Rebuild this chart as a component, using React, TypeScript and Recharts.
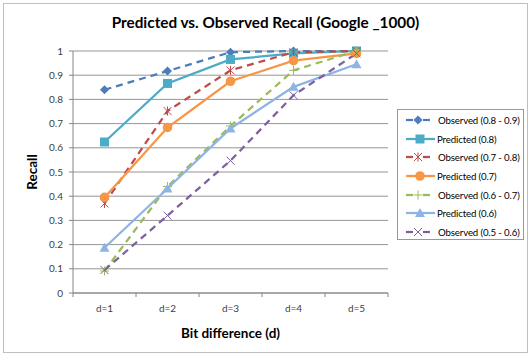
import React from "react"
import { LineChart, Line, XAxis, YAxis, CartesianGrid } from "recharts"

const categories = ["d=1", "d=2", "d=3", "d=4", "d=5"]
const yTicks = [0, 0.1, 0.2, 0.3, 0.4, 0.5, 0.6, 0.7, 0.8, 0.9, 1]

const observed89 = [0.84, 0.917, 0.995, 1.0, 1.0]
const predicted8 = [0.624, 0.866, 0.965, 0.99, 1.0]
const observed78 = [0.37, 0.752, 0.92, 0.995, 1.0]
const predicted7 = [0.395, 0.684, 0.875, 0.96, 0.99]
const observed67 = [0.091, 0.44, 0.69, 0.92, 1.0]
const predicted6 = [0.187, 0.432, 0.68, 0.852, 0.945]
const observed56 = [0.095, 0.32, 0.547, 0.817, 0.99]

type Shape = "diamond" | "square" | "star" | "circle" | "plus" | "triangle" | "cross"

const series = [
  { key: "o89", name: "Observed (0.8 - 0.9)", values: observed89, color: "#4A7EBB", dashed: true, shape: "diamond" as Shape },
  { key: "p8", name: "Predicted (0.8)", values: predicted8, color: "#4BACC6", dashed: false, shape: "square" as Shape },
  { key: "o78", name: "Observed (0.7 - 0.8)", values: observed78, color: "#BE4B48", dashed: true, shape: "star" as Shape },
  { key: "p7", name: "Predicted (0.7)", values: predicted7, color: "#F79646", dashed: false, shape: "circle" as Shape },
  { key: "o67", name: "Observed (0.6 - 0.7)", values: observed67, color: "#9BBB59", dashed: true, shape: "plus" as Shape },
  { key: "p6", name: "Predicted (0.6)", values: predicted6, color: "#8EB4E3", dashed: false, shape: "triangle" as Shape },
  { key: "o56", name: "Observed (0.5 - 0.6)", values: observed56, color: "#7F609E", dashed: true, shape: "cross" as Shape },
]

const data = categories.map((c, i) => {
  const row: Record<string, string | number> = { name: c }
  series.forEach((s) => (row[s.key] = s.values[i]))
  return row
})

const FONT = "Lato, 'Open Sans', sans-serif"

function Marker({ cx, cy, shape, color }: { cx: number; cy: number; shape: Shape; color: string }) {
  switch (shape) {
    case "diamond":
      return <polygon points={`${cx},${cy - 4.5} ${cx + 4.5},${cy} ${cx},${cy + 4.5} ${cx - 4.5},${cy}`} fill={color} />
    case "square":
      return <rect x={cx - 4.5} y={cy - 4.5} width={9} height={9} fill={color} />
    case "circle":
      return <circle cx={cx} cy={cy} r={4.8} fill={color} />
    case "triangle":
      return <polygon points={`${cx},${cy - 5} ${cx + 5},${cy + 4} ${cx - 5},${cy + 4}`} fill={color} />
    case "plus":
      return (
        <g stroke={color} strokeWidth={1}>
          <line x1={cx - 4.5} y1={cy} x2={cx + 4.5} y2={cy} />
          <line x1={cx} y1={cy - 4.5} x2={cx} y2={cy + 4.5} />
        </g>
      )
    case "cross":
      return (
        <g stroke={color} strokeWidth={1}>
          <line x1={cx - 4} y1={cy - 4} x2={cx + 4} y2={cy + 4} />
          <line x1={cx - 4} y1={cy + 4} x2={cx + 4} y2={cy - 4} />
        </g>
      )
    case "star":
      return (
        <g stroke={color} strokeWidth={1}>
          <line x1={cx - 4} y1={cy - 4} x2={cx + 4} y2={cy + 4} />
          <line x1={cx - 4} y1={cy + 4} x2={cx + 4} y2={cy - 4} />
          <line x1={cx} y1={cy - 4.5} x2={cx} y2={cy + 4.5} />
        </g>
      )
  }
  return null
}

// category width is 315 / 5
const HALF_BAND = 31.5

function XTick(props: any) {
  const { x, y, payload, index } = props
  return (
    <g>
      <line x1={x - HALF_BAND} y1={y} x2={x - HALF_BAND} y2={y + 4} stroke="#868686" />
      {index === categories.length - 1 && (
        <line x1={x + HALF_BAND} y1={y} x2={x + HALF_BAND} y2={y + 4} stroke="#868686" />
      )}
      <text x={x} y={y + 19} textAnchor="middle" fontSize={10} fill="#404040" fontFamily={FONT}>
        {payload.value}
      </text>
    </g>
  )
}

function LegendBox() {
  return (
    <div
      style={{
        position: "absolute",
        left: 397,
        top: 109,
        width: 127,
        height: 131,
        border: "1px solid #9E8FBF",
        boxSizing: "border-box",
        paddingTop: 1,
        fontFamily: FONT,
        fontSize: 9.7,
        letterSpacing: -0.15,
        color: "#000",
      }}
    >
      {series.map((s) => (
        <div key={s.key} style={{ display: "flex", alignItems: "center", height: 18.6 }}>
          <svg width={33} height={12} style={{ marginLeft: 6, flexShrink: 0 }}>
            {s.dashed ? (
              <>
                <line x1={2} y1={6} x2={9} y2={6} stroke={s.color} strokeWidth={2.25} />
                <line x1={19} y1={6} x2={26} y2={6} stroke={s.color} strokeWidth={2.25} />
              </>
            ) : (
              <line x1={2} y1={6} x2={31} y2={6} stroke={s.color} strokeWidth={2.25} />
            )}
            <Marker cx={s.dashed ? 14 : 16} cy={6} shape={s.shape} color={s.color} />
          </svg>
          <span style={{ marginLeft: s.dashed ? 1 : 0, whiteSpace: "nowrap" }}>{s.name}</span>
        </div>
      ))}
    </div>
  )
}

export default function App() {
  return (
    <div style={{ position: "absolute", left: 0, top: 0, width: 531, height: 356, background: "#fff", fontFamily: FONT }}>
      <div
        style={{
          position: "absolute",
          left: 3,
          top: 3,
          width: 525,
          height: 350,
          border: "1px solid #bfbfbf",
          boxSizing: "border-box",
        }}
      />
      <div
        style={{
          position: "absolute",
          left: 0,
          top: 13,
          width: 531,
          textAlign: "center",
          fontSize: 15.3,
          fontWeight: "bold",
          color: "#000",
        }}
      >
        Predicted vs. Observed Recall (Google _1000)
      </div>
      <div style={{ position: "absolute", left: 0, top: 0 }}>
        <LineChart width={531} height={356} data={data} margin={{ top: 51, right: 143, bottom: 0, left: 0 }}>
          <CartesianGrid vertical={false} stroke="#959595" />
          <XAxis
            dataKey="name"
            padding={{ left: HALF_BAND, right: HALF_BAND }}
            stroke="#868686"
            tickLine={false}
            tickSize={0}
            tickMargin={0}
            tick={<XTick />}
            height={63}
            interval={0}
            label={{
              value: "Bit difference (d)",
              position: "center",
              dy: 9,
              fontSize: 13.5,
              fontWeight: "bold",
              fill: "#000",
              fontFamily: FONT,
            }}
          />
          <YAxis
            width={73}
            domain={[0, 1]}
            ticks={yTicks}
            interval={0}
            stroke="#868686"
            tickSize={4}
            tickMargin={6}
            tick={{ fontSize: 10, fill: "#404040", fontFamily: FONT }}
            label={{
              value: "Recall",
              angle: -90,
              position: "center",
              dx: -4,
              fontSize: 13.5,
              fontWeight: "bold",
              fill: "#000",
              fontFamily: FONT,
            }}
          />
          {series.map((s) => (
            <Line
              key={s.key}
              dataKey={s.key}
              name={s.name}
              type="linear"
              stroke={s.color}
              strokeWidth={2.25}
              strokeDasharray={s.dashed ? "7 5" : undefined}
              isAnimationActive={false}
              dot={(p: any) => <Marker key={`${s.key}-${p.index}`} cx={p.cx} cy={p.cy} shape={s.shape} color={s.color} />}
              activeDot={false}
            />
          ))}
        </LineChart>
      </div>
      <LegendBox />
    </div>
  )
}
